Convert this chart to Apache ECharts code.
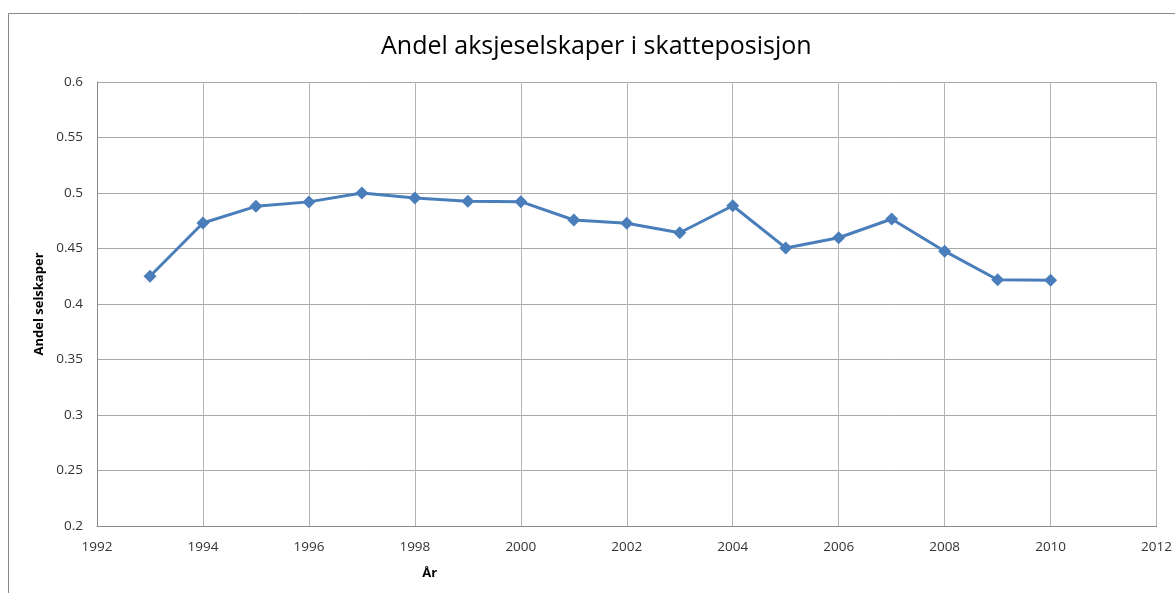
<!DOCTYPE html>
<html>
<head>
<meta charset="utf-8">
<script src="https://cdn.jsdelivr.net/npm/echarts@6/dist/echarts.min.js"></script>
<style>
  html, body { margin: 0; padding: 0; background: #fff; }
  #chart { width: 1175px; height: 593px; }
</style>
</head>
<body>
<div id="chart"></div>
<script>
const years = [1993, 1994, 1995, 1996, 1997, 1998, 1999, 2000, 2001, 2002, 2003, 2004, 2005, 2006, 2007, 2008, 2009, 2010]
const shares = [0.425, 0.473, 0.488, 0.492, 0.5, 0.4955, 0.4925, 0.4922, 0.4757, 0.4727, 0.4642, 0.4885, 0.4505, 0.4597, 0.4766, 0.4476, 0.4218, 0.4214]

const chart = echarts.init(document.getElementById('chart'))
const font = 'Open Sans, sans-serif'

chart.setOption({
  animation: false,
  title: {
    text: 'Andel aksjeselskaper i skatteposisjon',
    left: 376,
    top: 29,
    textStyle: { fontFamily: font, fontSize: 25, fontWeight: 'normal', color: '#000' }
  },
  graphic: [{
    type: 'rect',
    shape: { x: 8.5, y: 13.5, width: 1180, height: 600 },
    style: { fill: 'none', stroke: '#8a8a8a', lineWidth: 1 },
    silent: true
  }],
  grid: { left: 97, right: 18, top: 82, bottom: 67 },
  xAxis: {
    type: 'value',
    min: 1992,
    max: 2012,
    interval: 2,
    name: 'År',
    nameLocation: 'middle',
    nameGap: 41,
    nameTextStyle: { fontFamily: font, fontSize: 13, fontWeight: 'bold', color: '#000', padding: [0, 394, 0, 0] },
    axisLine: { lineStyle: { color: '#8a8a8a' } },
    axisTick: { show: false },
    axisLabel: { fontFamily: font, fontSize: 13.5, color: '#333', margin: 14, formatter: v => String(v) },
    splitLine: { show: true, lineStyle: { color: '#b4b4b4' } }
  },
  yAxis: {
    type: 'value',
    min: 0.2,
    max: 0.6,
    interval: 0.05,
    name: 'Andel selskaper',
    nameLocation: 'middle',
    nameGap: 50,
    nameTextStyle: { fontFamily: font, fontSize: 13, fontWeight: 'bold', color: '#000' },
    axisLine: { show: true, lineStyle: { color: '#8a8a8a' } },
    axisTick: { show: false },
    axisLabel: { fontFamily: font, fontSize: 13.5, color: '#333', margin: 14,
      formatter: v => String(Math.round(v * 100) / 100) },
    splitLine: { show: true, lineStyle: { color: '#a8a8a8' } }
  },
  series: [{
    type: 'line',
    data: years.map((y, i) => [y, shares[i]]),
    symbol: 'diamond',
    symbolSize: 13,
    lineStyle: { color: '#4a7ebb', width: 3 },
    itemStyle: { color: '#4a7ebb' }
  }]
})
</script>
</body>
</html>
